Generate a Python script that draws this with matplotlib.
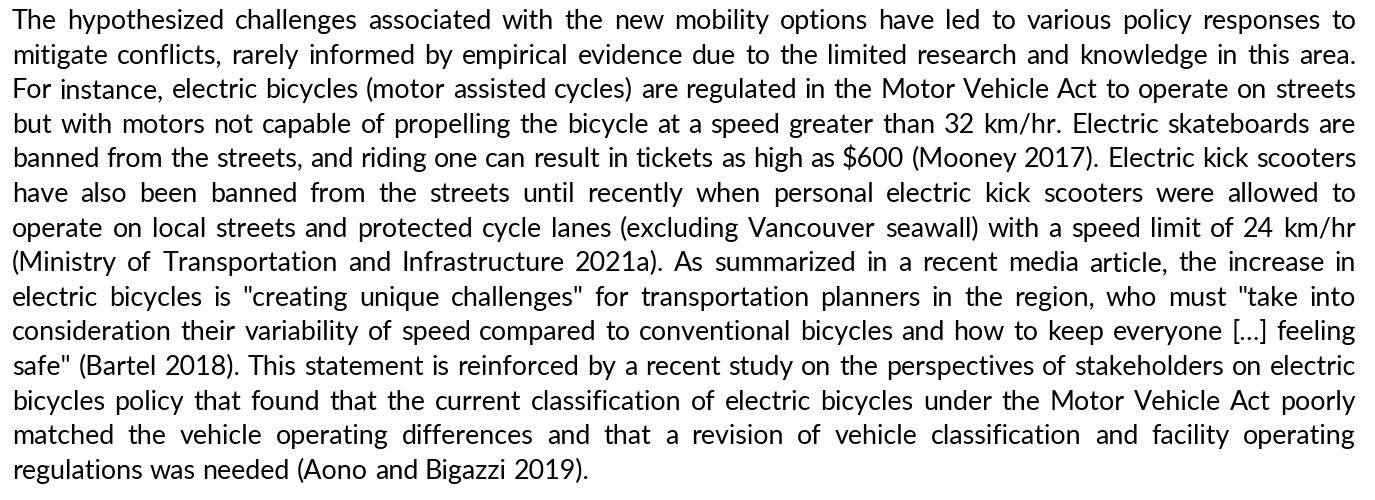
import matplotlib
matplotlib.use("Agg")
import matplotlib.pyplot as plt

lines = [
    "The hypothesized challenges associated with the new mobility options have led to various policy responses to",
    "mitigate conflicts, rarely informed by empirical evidence due to the limited research and knowledge in this area.",
    "For instance, electric bicycles (motor assisted cycles) are regulated in the Motor Vehicle Act to operate on streets",
    "but with motors not capable of propelling the bicycle at a speed greater than 32 km/hr. Electric skateboards are",
    "banned from the streets, and riding one can result in tickets as high as $600 (Mooney 2017). Electric kick scooters",
    "have also been banned from the streets until recently when personal electric kick scooters were allowed to",
    "operate on local streets and protected cycle lanes (excluding Vancouver seawall) with a speed limit of 24 km/hr",
    "(Ministry of Transportation and Infrastructure 2021a). As summarized in a recent media article, the increase in",
    "electric bicycles is \"creating unique challenges\" for transportation planners in the region, who must \"take into",
    "consideration their variability of speed compared to conventional bicycles and how to keep everyone [\u2026] feeling",
    "safe\" (Bartel 2018). This statement is reinforced by a recent study on the perspectives of stakeholders on electric",
    "bicycles policy that found that the current classification of electric bicycles under the Motor Vehicle Act poorly",
    "matched the vehicle operating differences and that a revision of vehicle classification and facility operating",
    "regulations was needed (Aono and Bigazzi 2019).",
]

W, H, DPI = 1375, 500, 100
LEFT, RIGHT = 12, 1356
TOP_BASE, LINE_GAP = 29, 34.6
LAST_LINE_END = 592
FONT = "Lato"

fig = plt.figure(figsize=(W / DPI, H / DPI), dpi=DPI)
fig.patch.set_facecolor("white")
ax = fig.add_axes([0, 0, 1, 1])
ax.set_xlim(0, W)
ax.set_ylim(H, 0)
ax.axis("off")
renderer = fig.canvas.get_renderer()


def measure(s, size):
    t = ax.text(0, 0, s, fontsize=size, family=FONT, parse_math=False)
    w = t.get_window_extent(renderer).width
    t.remove()
    return w


def space_w(size):
    return measure("a b", size) - measure("ab", size)


def last_width(size):
    words = lines[-1].split(" ")
    return sum(measure(w, size) for w in words) + space_w(size) * (len(words) - 1)

# target: last line natural width as in the reference, but every line must fit
size = 15.0 * (LAST_LINE_END - LEFT) / last_width(15.0)
while True:
    sp = space_w(size)
    ok = True
    for ln in lines[:-1]:
        words = ln.split(" ")
        nat = sum(measure(w, size) for w in words) + sp * 0.85 * (len(words) - 1)
        if nat > RIGHT - LEFT:
            ok = False
            break
    if ok:
        break
    size -= 0.1

sp = space_w(size)
for i, ln in enumerate(lines):
    y = TOP_BASE + i * LINE_GAP
    words = ln.split(" ")
    widths = [measure(w, size) for w in words]
    if i < len(lines) - 1:
        gap = (RIGHT - LEFT - sum(widths)) / (len(words) - 1)
    else:
        gap = sp
    x = LEFT
    for w, wd in zip(words, widths):
        ax.text(x, y, w, fontsize=size, family=FONT, color="black",
                va="baseline", ha="left", parse_math=False)
        x += wd + gap

fig.savefig("out.png", dpi=DPI, facecolor="white")
